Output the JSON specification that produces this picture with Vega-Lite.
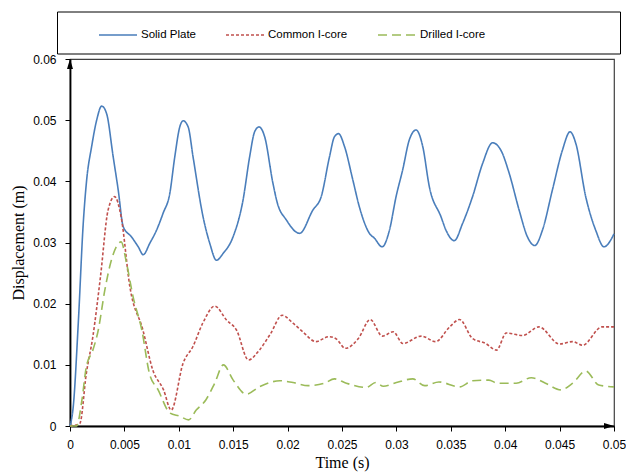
{
  "$schema": "https://vega.github.io/schema/vega-lite/v6.json",
  "width": 544,
  "height": 367,
  "autosize": {"type": "none"},
  "padding": {"left": 70, "top": 59, "right": 12, "bottom": 50},
  "background": "white",
  "config": {
    "view": {"stroke": "#404040", "strokeWidth": 1.2},
    "axis": {"grid": false, "domainColor": "black", "domainWidth": 1.8, "tickColor": "black", "tickSize": 5, "tickWidth": 1, "labelFont": "Liberation Sans", "labelFontSize": 12, "labelColor": "black", "titleFont": "Liberation Serif", "titleFontSize": 16, "titleFontWeight": "normal", "titleColor": "black"},
    "legend": {"title": null, "orient": "none", "legendX": -13, "legendY": -47.5, "direction": "horizontal", "strokeColor": "black", "fillColor": "white", "padding": 13, "symbolType": "M-2,0L2,0", "symbolSize": 361, "symbolStrokeWidth": 1.6, "symbolFillColor": "transparent", "labelFont": "Liberation Sans", "labelFontSize": 11.5, "labelColor": "black", "labelOffset": 12.5, "labelLimit": 400, "columnPadding": 1, "symbolOffset": 37.5}
  },
  "datasets": {
    "curves": [
      {"s":"Solid Plate","t":0,"d":0},
      {"s":"Solid Plate","t":0.0003,"d":0.0032},
      {"s":"Solid Plate","t":0.00076,"d":0.0168},
      {"s":"Solid Plate","t":0.00122,"d":0.0332},
      {"s":"Solid Plate","t":0.00153,"d":0.0402},
      {"s":"Solid Plate","t":0.00199,"d":0.0457},
      {"s":"Solid Plate","t":0.00245,"d":0.050},
      {"s":"Solid Plate","t":0.00291,"d":0.0523},
      {"s":"Solid Plate","t":0.00336,"d":0.0511},
      {"s":"Solid Plate","t":0.00397,"d":0.044},
      {"s":"Solid Plate","t":0.00443,"d":0.0386},
      {"s":"Solid Plate","t":0.00489,"d":0.0326},
      {"s":"Solid Plate","t":0.00566,"d":0.0309},
      {"s":"Solid Plate","t":0.00627,"d":0.0293},
      {"s":"Solid Plate","t":0.00673,"d":0.028},
      {"s":"Solid Plate","t":0.00734,"d":0.0299},
      {"s":"Solid Plate","t":0.00795,"d":0.032},
      {"s":"Solid Plate","t":0.00856,"d":0.0348},
      {"s":"Solid Plate","t":0.00917,"d":0.038},
      {"s":"Solid Plate","t":0.00963,"d":0.044},
      {"s":"Solid Plate","t":0.01009,"d":0.0489},
      {"s":"Solid Plate","t":0.0104,"d":0.0499},
      {"s":"Solid Plate","t":0.01086,"d":0.0489},
      {"s":"Solid Plate","t":0.01131,"d":0.044},
      {"s":"Solid Plate","t":0.01223,"d":0.0342},
      {"s":"Solid Plate","t":0.01284,"d":0.0299},
      {"s":"Solid Plate","t":0.01346,"d":0.0271},
      {"s":"Solid Plate","t":0.01407,"d":0.0282},
      {"s":"Solid Plate","t":0.01498,"d":0.0309},
      {"s":"Solid Plate","t":0.0159,"d":0.0369},
      {"s":"Solid Plate","t":0.01651,"d":0.044},
      {"s":"Solid Plate","t":0.01697,"d":0.0481},
      {"s":"Solid Plate","t":0.01737,"d":0.0489},
      {"s":"Solid Plate","t":0.01789,"d":0.0473},
      {"s":"Solid Plate","t":0.01865,"d":0.0397},
      {"s":"Solid Plate","t":0.01905,"d":0.0365},
      {"s":"Solid Plate","t":0.01988,"d":0.0337},
      {"s":"Solid Plate","t":0.0211,"d":0.0315},
      {"s":"Solid Plate","t":0.02232,"d":0.0353},
      {"s":"Solid Plate","t":0.02309,"d":0.0375},
      {"s":"Solid Plate","t":0.02385,"d":0.044},
      {"s":"Solid Plate","t":0.02431,"d":0.0473},
      {"s":"Solid Plate","t":0.02468,"d":0.0478},
      {"s":"Solid Plate","t":0.02523,"d":0.0457},
      {"s":"Solid Plate","t":0.026,"d":0.0402},
      {"s":"Solid Plate","t":0.0266,"d":0.0358},
      {"s":"Solid Plate","t":0.02752,"d":0.0315},
      {"s":"Solid Plate","t":0.02798,"d":0.0307},
      {"s":"Solid Plate","t":0.02869,"d":0.0293},
      {"s":"Solid Plate","t":0.02936,"d":0.032},
      {"s":"Solid Plate","t":0.02997,"d":0.0375},
      {"s":"Solid Plate","t":0.03058,"d":0.0419},
      {"s":"Solid Plate","t":0.03119,"d":0.0468},
      {"s":"Solid Plate","t":0.03181,"d":0.0484},
      {"s":"Solid Plate","t":0.03242,"d":0.0457},
      {"s":"Solid Plate","t":0.03303,"d":0.0391},
      {"s":"Solid Plate","t":0.0341,"d":0.0342},
      {"s":"Solid Plate","t":0.03456,"d":0.032},
      {"s":"Solid Plate","t":0.03532,"d":0.0303},
      {"s":"Solid Plate","t":0.03608,"d":0.0331},
      {"s":"Solid Plate","t":0.037,"d":0.0375},
      {"s":"Solid Plate","t":0.03792,"d":0.0429},
      {"s":"Solid Plate","t":0.03884,"d":0.0463},
      {"s":"Solid Plate","t":0.0396,"d":0.0451},
      {"s":"Solid Plate","t":0.04037,"d":0.0413},
      {"s":"Solid Plate","t":0.04128,"d":0.0353},
      {"s":"Solid Plate","t":0.04205,"d":0.0309},
      {"s":"Solid Plate","t":0.04272,"d":0.0295},
      {"s":"Solid Plate","t":0.04342,"d":0.032},
      {"s":"Solid Plate","t":0.04434,"d":0.0386},
      {"s":"Solid Plate","t":0.04526,"d":0.0451},
      {"s":"Solid Plate","t":0.04596,"d":0.0481},
      {"s":"Solid Plate","t":0.04649,"d":0.0462},
      {"s":"Solid Plate","t":0.0474,"d":0.0375},
      {"s":"Solid Plate","t":0.04832,"d":0.032},
      {"s":"Solid Plate","t":0.04908,"d":0.0293},
      {"s":"Solid Plate","t":0.05,"d":0.0314},
      {"s":"Common I-core","t":0,"d":0},
      {"s":"Common I-core","t":0.0009,"d":0.0004},
      {"s":"Common I-core","t":0.0015,"d":0.0086},
      {"s":"Common I-core","t":0.0021,"d":0.0146},
      {"s":"Common I-core","t":0.0028,"d":0.0244},
      {"s":"Common I-core","t":0.0035,"d":0.0353},
      {"s":"Common I-core","t":0.0041,"d":0.0375},
      {"s":"Common I-core","t":0.0047,"d":0.0342},
      {"s":"Common I-core","t":0.0055,"d":0.0228},
      {"s":"Common I-core","t":0.0067,"d":0.0157},
      {"s":"Common I-core","t":0.0076,"d":0.0092},
      {"s":"Common I-core","t":0.0086,"d":0.0059},
      {"s":"Common I-core","t":0.0093,"d":0.0026},
      {"s":"Common I-core","t":0.0104,"d":0.0103},
      {"s":"Common I-core","t":0.0113,"d":0.013},
      {"s":"Common I-core","t":0.0122,"d":0.0168},
      {"s":"Common I-core","t":0.0133,"d":0.0196},
      {"s":"Common I-core","t":0.0144,"d":0.0173},
      {"s":"Common I-core","t":0.0153,"d":0.0157},
      {"s":"Common I-core","t":0.0164,"d":0.0108},
      {"s":"Common I-core","t":0.0174,"d":0.0124},
      {"s":"Common I-core","t":0.0184,"d":0.015},
      {"s":"Common I-core","t":0.0195,"d":0.0181},
      {"s":"Common I-core","t":0.0205,"d":0.0168},
      {"s":"Common I-core","t":0.0214,"d":0.0154},
      {"s":"Common I-core","t":0.0226,"d":0.0138},
      {"s":"Common I-core","t":0.0238,"d":0.0146},
      {"s":"Common I-core","t":0.0245,"d":0.0142},
      {"s":"Common I-core","t":0.0253,"d":0.0127},
      {"s":"Common I-core","t":0.0265,"d":0.0143},
      {"s":"Common I-core","t":0.0276,"d":0.0174},
      {"s":"Common I-core","t":0.0287,"d":0.0147},
      {"s":"Common I-core","t":0.0297,"d":0.0154},
      {"s":"Common I-core","t":0.0306,"d":0.0135},
      {"s":"Common I-core","t":0.0323,"d":0.0147},
      {"s":"Common I-core","t":0.0336,"d":0.0138},
      {"s":"Common I-core","t":0.0349,"d":0.0162},
      {"s":"Common I-core","t":0.0358,"d":0.0174},
      {"s":"Common I-core","t":0.037,"d":0.0143},
      {"s":"Common I-core","t":0.0382,"d":0.0135},
      {"s":"Common I-core","t":0.0392,"d":0.0124},
      {"s":"Common I-core","t":0.0401,"d":0.0152},
      {"s":"Common I-core","t":0.0416,"d":0.0148},
      {"s":"Common I-core","t":0.0431,"d":0.0162},
      {"s":"Common I-core","t":0.045,"d":0.0134},
      {"s":"Common I-core","t":0.0462,"d":0.0138},
      {"s":"Common I-core","t":0.0471,"d":0.0132},
      {"s":"Common I-core","t":0.0489,"d":0.0162},
      {"s":"Common I-core","t":0.05,"d":0.0162},
      {"s":"Drilled I-core","t":0,"d":0},
      {"s":"Drilled I-core","t":0.0006,"d":0},
      {"s":"Drilled I-core","t":0.0011,"d":0.0043},
      {"s":"Drilled I-core","t":0.0015,"d":0.0097},
      {"s":"Drilled I-core","t":0.0021,"d":0.0124},
      {"s":"Drilled I-core","t":0.0026,"d":0.0157},
      {"s":"Drilled I-core","t":0.0032,"d":0.0222},
      {"s":"Drilled I-core","t":0.0038,"d":0.0271},
      {"s":"Drilled I-core","t":0.0047,"d":0.0301},
      {"s":"Drilled I-core","t":0.0052,"d":0.0266},
      {"s":"Drilled I-core","t":0.0058,"d":0.0211},
      {"s":"Drilled I-core","t":0.0066,"d":0.0157},
      {"s":"Drilled I-core","t":0.0073,"d":0.0086},
      {"s":"Drilled I-core","t":0.0081,"d":0.0059},
      {"s":"Drilled I-core","t":0.0092,"d":0.0021},
      {"s":"Drilled I-core","t":0.0101,"d":0.0016},
      {"s":"Drilled I-core","t":0.0109,"d":0.001},
      {"s":"Drilled I-core","t":0.0116,"d":0.0026},
      {"s":"Drilled I-core","t":0.0125,"d":0.0043},
      {"s":"Drilled I-core","t":0.0133,"d":0.007},
      {"s":"Drilled I-core","t":0.0141,"d":0.01},
      {"s":"Drilled I-core","t":0.015,"d":0.0075},
      {"s":"Drilled I-core","t":0.0162,"d":0.0052},
      {"s":"Drilled I-core","t":0.0174,"d":0.0064},
      {"s":"Drilled I-core","t":0.0193,"d":0.0074},
      {"s":"Drilled I-core","t":0.0205,"d":0.0071},
      {"s":"Drilled I-core","t":0.0219,"d":0.0066},
      {"s":"Drilled I-core","t":0.0234,"d":0.007},
      {"s":"Drilled I-core","t":0.0243,"d":0.0077},
      {"s":"Drilled I-core","t":0.0254,"d":0.007},
      {"s":"Drilled I-core","t":0.0272,"d":0.0063},
      {"s":"Drilled I-core","t":0.0281,"d":0.0071},
      {"s":"Drilled I-core","t":0.0288,"d":0.0065},
      {"s":"Drilled I-core","t":0.03,"d":0.0071},
      {"s":"Drilled I-core","t":0.0315,"d":0.0077},
      {"s":"Drilled I-core","t":0.0326,"d":0.0066},
      {"s":"Drilled I-core","t":0.0339,"d":0.0072},
      {"s":"Drilled I-core","t":0.0358,"d":0.0064},
      {"s":"Drilled I-core","t":0.037,"d":0.0074},
      {"s":"Drilled I-core","t":0.0385,"d":0.0075},
      {"s":"Drilled I-core","t":0.0393,"d":0.007},
      {"s":"Drilled I-core","t":0.041,"d":0.007},
      {"s":"Drilled I-core","t":0.0424,"d":0.0079},
      {"s":"Drilled I-core","t":0.0437,"d":0.007},
      {"s":"Drilled I-core","t":0.0451,"d":0.0059},
      {"s":"Drilled I-core","t":0.0462,"d":0.007},
      {"s":"Drilled I-core","t":0.0474,"d":0.009},
      {"s":"Drilled I-core","t":0.0486,"d":0.0067},
      {"s":"Drilled I-core","t":0.05,"d":0.0064}
    ],
    "topArrow": [{"t": 0, "d": 0.06}],
    "rightArrow": [{"t": 0.05, "d": 0}]
  },
  "layer": [
    {
      "data": {"name": "curves"},
      "mark": {"type": "line", "interpolate": "monotone", "strokeWidth": 1.6},
      "encoding": {
        "x": {"field": "t", "type": "quantitative", "scale": {"domain": [0, 0.05], "nice": false, "zero": false},
          "axis": {"title": "Time (s)", "values": [0,0.005,0.01,0.015,0.02,0.025,0.03,0.035,0.04,0.045,0.05], "format": "~g", "labelPadding": 8, "titlePadding": 4, "labelFlush": false}},
        "y": {"field": "d", "type": "quantitative", "scale": {"domain": [0, 0.06], "nice": false},
          "axis": {"title": "Displacement (m)", "values": [0,0.01,0.02,0.03,0.04,0.05,0.06], "format": "~g", "labelPadding": 9, "titlePadding": 6}},
        "color": {"field": "s", "type": "nominal",
          "scale": {"domain": ["Solid Plate", "Common I-core", "Drilled I-core"], "range": ["#4a7ebb", "#c0504d", "#9bbb59"]},
          "legend": {"labelExpr": "datum.label == 'Drilled I-core' ? datum.label + '\u00a0\u00a0\u00a0\u00a0\u00a0\u00a0\u00a0\u00a0\u00a0\u00a0\u00a0\u00a0\u00a0\u00a0\u00a0\u00a0\u00a0\u00a0\u00a0\u00a0\u00a0\u00a0\u00a0\u00a0\u00a0\u00a0\u00a0\u00a0\u00a0\u00a0\u00a0\u00a0\u00a0\u00a0\u00a0\u00a0\u00a0\u00a0\u200b' : datum.label"}},
        "strokeDash": {"field": "s", "type": "nominal",
          "scale": {"domain": ["Solid Plate", "Common I-core", "Drilled I-core"], "range": [[1, 0], [3, 2], [9, 5]]},
          "legend": {"labelExpr": "datum.label == 'Drilled I-core' ? datum.label + '\u00a0\u00a0\u00a0\u00a0\u00a0\u00a0\u00a0\u00a0\u00a0\u00a0\u00a0\u00a0\u00a0\u00a0\u00a0\u00a0\u00a0\u00a0\u00a0\u00a0\u00a0\u00a0\u00a0\u00a0\u00a0\u00a0\u00a0\u00a0\u00a0\u00a0\u00a0\u00a0\u00a0\u00a0\u00a0\u00a0\u00a0\u00a0\u200b' : datum.label"}},
        "order": {"field": "t", "type": "quantitative"}
      }
    },
    {
      "data": {"name": "topArrow"},
      "mark": {"type": "point", "shape": "M0,0 L-0.3,1 L0.3,1 Z", "size": 400, "filled": true, "color": "black", "opacity": 1, "clip": false},
      "encoding": {"x": {"field": "t", "type": "quantitative"}, "y": {"field": "d", "type": "quantitative"}}
    },
    {
      "data": {"name": "rightArrow"},
      "mark": {"type": "point", "shape": "M0,0 L-1,-0.3 L-1,0.3 Z", "size": 400, "filled": true, "color": "black", "opacity": 1, "clip": false},
      "encoding": {"x": {"field": "t", "type": "quantitative"}, "y": {"field": "d", "type": "quantitative"}}
    }
  ]
}
